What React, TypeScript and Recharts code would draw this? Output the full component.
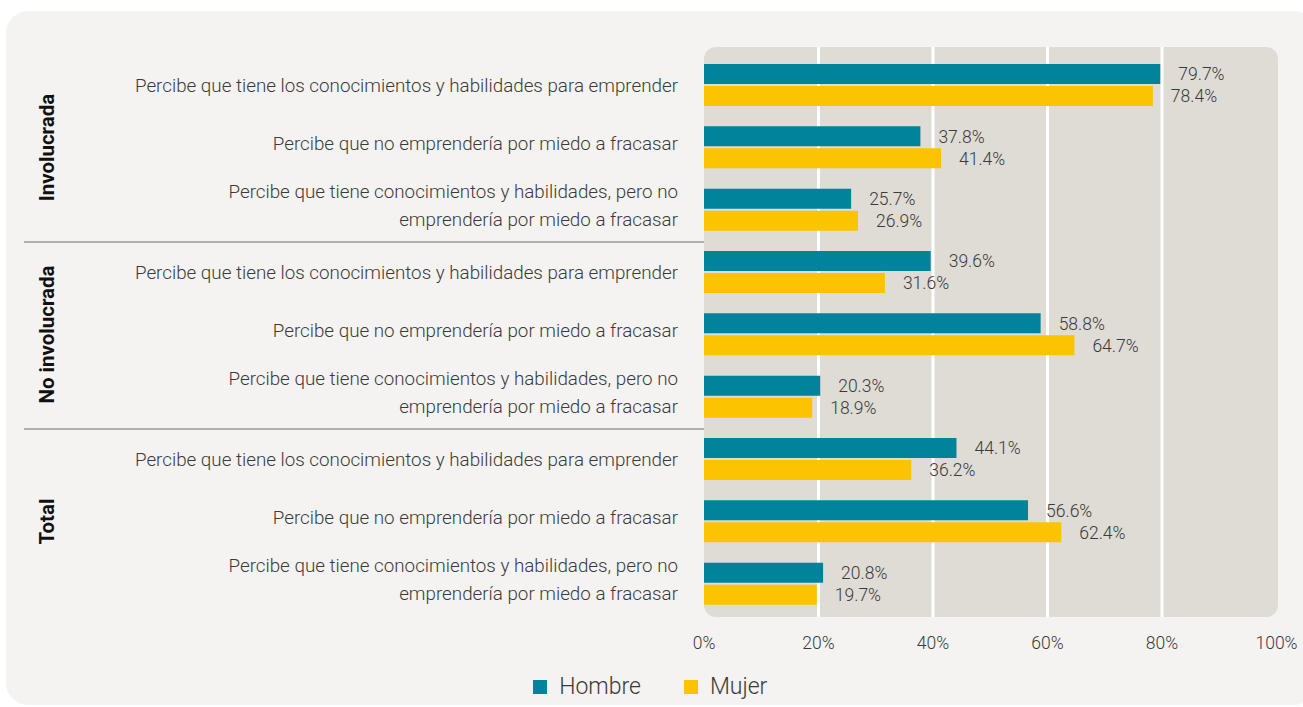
import React from "react";
import {
  BarChart,
  Bar,
  XAxis,
  YAxis,
  CartesianGrid,
  Legend,
  LabelList,
} from "recharts";

// grupos y afirmaciones (cada grupo repite las mismas 3 afirmaciones)
const groups = ["Involucrada", "No involucrada", "Total"];
const statements = [
  "Percibe que tiene los conocimientos y habilidades para emprender",
  "Percibe que no emprendería por miedo a fracasar",
  "Percibe que tiene conocimientos y habilidades, pero no\nemprendería por miedo a fracasar",
];
const hombre = [79.7, 37.8, 25.7, 39.6, 58.8, 20.3, 44.1, 56.6, 20.8];
const mujer = [78.4, 41.4, 26.9, 31.6, 64.7, 18.9, 36.2, 62.4, 19.7];
const xTicks = [0, 20, 40, 60, 80, 100];
const gridTicks = [20, 40, 60, 80];

const data = groups.flatMap((g, gi) =>
  statements.map((s, si) => ({
    key: `${g}|${s}`,
    Hombre: hombre[gi * statements.length + si],
    Mujer: mujer[gi * statements.length + si],
  }))
);

const TEAL = "#00839b";
const YELLOW = "#fbc300";
const TEXT = "#3a3a3a";
const FONT = "Roboto, 'Noto Sans', sans-serif";

const W = 1303;
const H = 707;
const PLOT_TOP = 47;
const PLOT_BOTTOM = 617;
const PAD_TOP = 7;
const PAD_BOTTOM = 2;
const BAND = (PLOT_BOTTOM - PLOT_TOP - PAD_TOP - PAD_BOTTOM) / data.length;
// ajuste vertical del texto según la afirmación
const labelShift = [1, -4, -4];

function CategoryTick(props: any) {
  const { x, y, payload, index } = props;
  const [group, label] = String(payload.value).split("|");
  const lines = label.split("\n");
  const lh = 28;
  const pos = index % statements.length;
  const startY = y + labelShift[pos] - ((lines.length - 1) * lh) / 2;
  return (
    <g>
      <text
        x={x}
        y={startY}
        textAnchor="end"
        dominantBaseline="central"
        fill={TEXT}
        fontFamily={FONT}
        fontWeight={300}
        fontSize={18.8}
      >
        {lines.map((l, i) => (
          <tspan key={i} x={x} dy={i === 0 ? 0 : lh}>
            {l}
          </tspan>
        ))}
      </text>
      {pos === 1 && (
        <text
          transform={`translate(47, ${y}) rotate(-90)`}
          textAnchor="middle"
          dominantBaseline="central"
          fill="#111"
          fontFamily={FONT}
          fontWeight={700}
          fontSize={20.5}
        >
          {group}
        </text>
      )}
      {pos === 0 && index > 0 && (
        <line
          x1={24}
          x2={x + 26}
          y1={y - BAND / 2 + 1}
          y2={y - BAND / 2 + 1}
          stroke="#9a9a9a"
          strokeWidth={1.5}
        />
      )}
    </g>
  );
}

function renderLegend(props: any) {
  const { payload } = props;
  return (
    <div
      style={{
        display: "flex",
        justifyContent: "center",
        paddingTop: 28,
        paddingLeft: 24,
        fontFamily: FONT,
        fontWeight: 300,
        fontSize: 23,
        color: TEXT,
      }}
    >
      {(payload || []).map((p: any, i: number) => (
        <div
          key={i}
          style={{ display: "flex", alignItems: "center", marginRight: i === 0 ? 43 : 0 }}
        >
          <span
            style={{
              width: 14,
              height: 14,
              background: p.color,
              display: "inline-block",
              marginRight: 12,
            }}
          />
          <span style={{ lineHeight: "24px" }}>{p.value}</span>
        </div>
      ))}
    </div>
  );
}

const fmt = (v: any) => `${Number(v).toFixed(1)}%`;

export default function App() {
  return (
    <div style={{ position: "relative", width: W, height: H, background: "#fff" }}>
      <style>{`body{margin:0}`}</style>
      <div
        style={{
          position: "absolute",
          left: 6,
          top: 11,
          width: 1310,
          height: 694,
          borderRadius: 22,
          background: "#f4f3f1",
        }}
      />
      <div
        style={{
          position: "absolute",
          left: 704,
          top: PLOT_TOP,
          width: 574,
          height: PLOT_BOTTOM - PLOT_TOP,
          borderRadius: 12,
          background: "#dfdbd5",
        }}
      />
      <div style={{ position: "absolute", left: 0, top: 0 }}>
        <BarChart
          width={W}
          height={H}
          data={data}
          layout="vertical"
          barSize={20}
          barGap={2}
          margin={{ top: PLOT_TOP, right: 26.5, left: 0, bottom: 10 }}
        >
          <CartesianGrid
            horizontal={false}
            stroke="#ffffff"
            strokeWidth={3}
            verticalCoordinatesGenerator={(p: any) => {
              const sc = p?.xAxis?.scale;
              if (typeof sc === "function") return gridTicks.map((t) => sc(t));
              return gridTicks.map(
                (t) => p.offset.left + (p.offset.width * t) / 100
              );
            }}
          />
          <XAxis
            type="number"
            domain={[0, 100]}
            ticks={xTicks}
            tickFormatter={(v) => `${v}%`}
            axisLine={false}
            tickLine={false}
            tickSize={0}
            tickMargin={20}
            height={30}
            interval={0}
            tick={{ fill: TEXT, fontFamily: FONT, fontWeight: 300, fontSize: 17.5 }}
          />
          <YAxis
            type="category"
            dataKey="key"
            width={704}
            axisLine={false}
            tickLine={false}
            tickSize={0}
            tickMargin={26}
            interval={0}
            padding={{ top: PAD_TOP, bottom: PAD_BOTTOM }}
            tick={<CategoryTick />}
          />
          <Legend verticalAlign="bottom" height={50} content={renderLegend} />
          <Bar dataKey="Hombre" fill={TEAL} isAnimationActive={false}>
            <LabelList
              dataKey="Hombre"
              position="right"
              offset={18}
              formatter={fmt}
              fill={TEXT}
              fontFamily={FONT}
              fontWeight={300}
              fontSize={17.5}
            />
          </Bar>
          <Bar dataKey="Mujer" fill={YELLOW} isAnimationActive={false}>
            <LabelList
              dataKey="Mujer"
              position="right"
              offset={18}
              formatter={fmt}
              fill={TEXT}
              fontFamily={FONT}
              fontWeight={300}
              fontSize={17.5}
            />
          </Bar>
        </BarChart>
      </div>
    </div>
  );
}
